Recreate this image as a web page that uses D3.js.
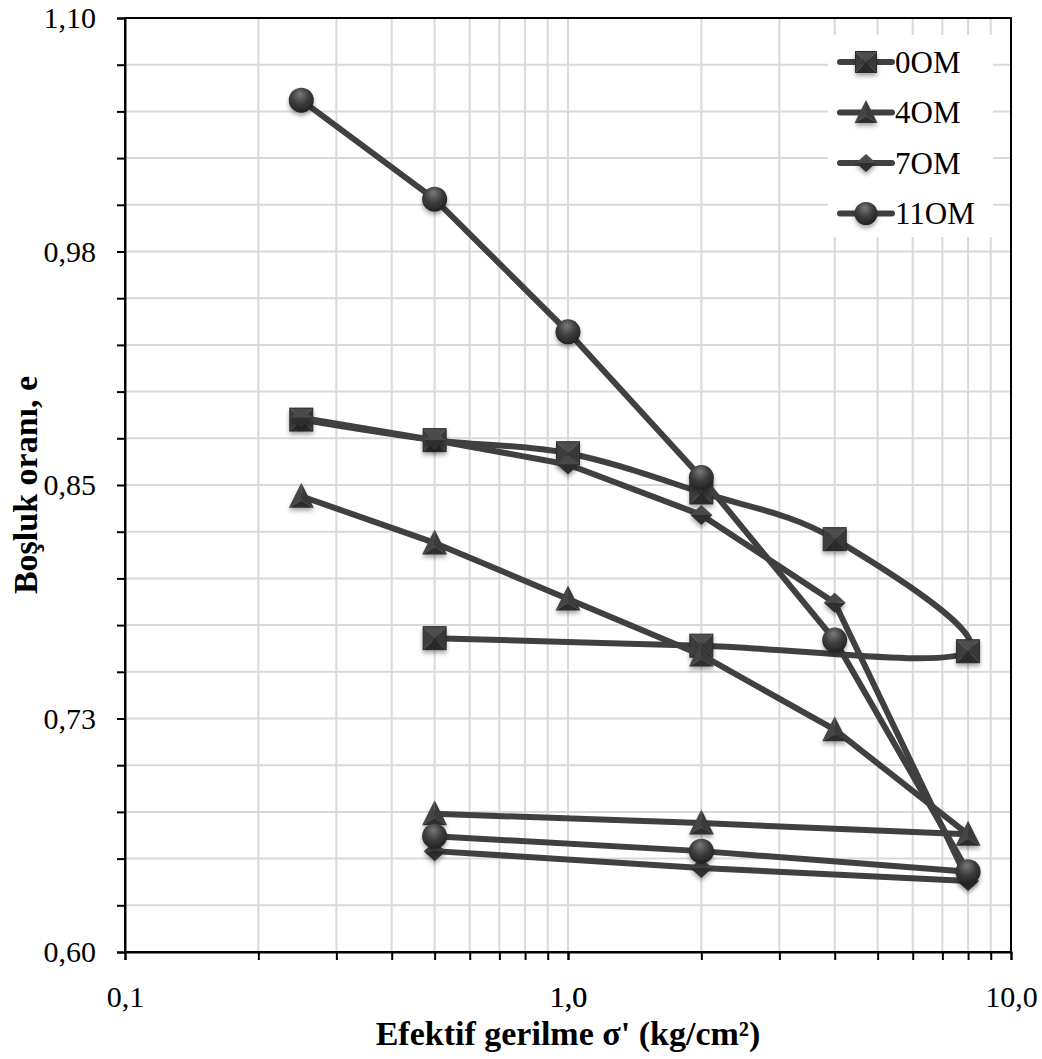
<!DOCTYPE html>
<html lang="en">
<head>
<meta charset="UTF-8">
<title>Boşluk oranı - Efektif gerilme</title>
<script src="https://d3js.org/d3.v7.min.js"></script>
<style>
    body { margin: 0; background: #fff; }
    svg { display: block; font-family: "Liberation Serif", "Times New Roman", serif; }
    .grid line { stroke: #d9d9d9; stroke-width: 2px; }
    .axis path, .axis line { stroke: #000; stroke-width: 2px; }
    .axis text { font-size: 30px; fill: #000; font-family: "Liberation Serif", serif; }
    .title { font-size: 34px; font-weight: bold; }
    .leg { font-size: 31px; }
</style>
</head>
<body>
<svg id="chart" width="1042" height="1059"></svg>
<script>
// data: loading then unloading path
let stress = [0.25, 0.5, 1, 2, 4, 8, 2, 0.5]
let e_0OM = [0.885, 0.874, 0.867, 0.846, 0.821, 0.761, 0.764, 0.768]
let e_4OM = [0.844, 0.819, 0.789, 0.759, 0.719, 0.663, 0.669, 0.674]
let e_7OM = [0.886, 0.874, 0.861, 0.834, 0.787, 0.638, 0.645, 0.654]
let e_11OM = [1.056, 1.003, 0.932, 0.854, 0.767, 0.643, 0.654, 0.662]

let seriesNames = ["0OM", "4OM", "7OM", "11OM"]
let seriesShapes = ["square", "triangle", "diamond", "circle"]

let yTicks = [0.60, 0.725, 0.85, 0.975, 1.10]
let yTickLabels = ["0,60", "0,73", "0,85", "0,98", "1,10"]
let xTicks = [0.1, 1, 10]
let xTickLabels = ["0,1", "1,0", "10,0"]

let series = [
    { name: seriesNames[0], shape: seriesShapes[0], values: e_0OM, smooth: true },
    { name: seriesNames[1], shape: seriesShapes[1], values: e_4OM, smooth: false },
    { name: seriesNames[2], shape: seriesShapes[2], values: e_7OM, smooth: false },
    { name: seriesNames[3], shape: seriesShapes[3], values: e_11OM, smooth: false }
]

let margin = { left: 125, top: 18, right: 31, bottom: 107 }
let W = 1042, H = 1059
let width = W - margin.left - margin.right
let height = H - margin.top - margin.bottom
let lineColor = "#404040"

let svg = d3.select("#chart")
let defs = svg.append("defs")

// 3D-ish look for the markers
let shadow = defs.append("filter").attr("id", "shadow")
    .attr("x", "-50%").attr("y", "-50%").attr("width", "200%").attr("height", "200%")
shadow.append("feDropShadow").attr("dx", 0).attr("dy", 3).attr("stdDeviation", 2)
    .attr("flood-color", "#000").attr("flood-opacity", 0.35)

let ball = defs.append("radialGradient").attr("id", "ball")
    .attr("cx", "45%").attr("cy", "35%").attr("r", "65%").attr("fx", "45%").attr("fy", "25%")
ball.append("stop").attr("offset", "0%").attr("stop-color", "#7a7a7a")
ball.append("stop").attr("offset", "55%").attr("stop-color", "#3c3c3c")
ball.append("stop").attr("offset", "100%").attr("stop-color", "#222")

let x = d3.scaleLog().domain([0.1, 10]).range([0, width])
let y = d3.scaleLinear().domain([0.6, 1.1]).range([height, 0])

let g = svg.append("g").attr("transform", `translate(${margin.left},${margin.top})`)

// gridlines
let xMinor = []
for (let dec of [0.1, 1]) for (let k = 2; k <= 9; k++) xMinor.push(+(dec * k).toFixed(2))
xMinor.push(1)
let yMinor = d3.range(0.625, 1.1, 0.025)

let grid = g.append("g").attr("class", "grid")
grid.selectAll(".v").data(xMinor).enter().append("line")
    .attr("x1", d => x(d)).attr("x2", d => x(d)).attr("y1", 0).attr("y2", height)
grid.selectAll(".h").data(yMinor).enter().append("line")
    .attr("x1", 0).attr("x2", width).attr("y1", d => y(d)).attr("y2", d => y(d))

// frame
g.append("rect").attr("width", width).attr("height", height)
    .attr("fill", "none").attr("stroke", "#000").attr("stroke-width", 2)

// axes: ticks at every gridline, labels only at the major ones
let xAxis = d3.axisBottom(x).tickValues(xMinor.concat(xTicks)).tickSizeOuter(0).tickSize(8)
    .tickFormat(d => { let i = xTicks.indexOf(d); return i >= 0 ? xTickLabels[i] : "" })
g.append("g").attr("class", "axis").attr("transform", `translate(0,${height})`).call(xAxis)
    .selectAll("text").attr("dy", "1.45em")

let yAxis = d3.axisLeft(y).tickValues(d3.range(0.6, 1.1001, 0.025)).tickSizeOuter(0).tickSize(8)
    .tickFormat(d => {
        let i = yTicks.findIndex(t => Math.abs(t - d) < 1e-6)
        return i >= 0 ? yTickLabels[i] : ""
    })
g.append("g").attr("class", "axis").call(yAxis)
    .selectAll("text").attr("dx", "-0.6em")

// marker drawing
function drawMarker(sel, shape, s) {
    sel.attr("filter", "url(#shadow)")
    if (shape === "circle") {
        sel.append("circle").attr("r", s / 2).attr("fill", "url(#ball)")
    } else if (shape === "square") {
        let h = s / 2
        let faces = [
            [[-h, -h], [h, -h], [0, 0], "#4d4d4d"],
            [[h, -h], [h, h], [0, 0], "#383838"],
            [[h, h], [-h, h], [0, 0], "#2c2c2c"],
            [[-h, h], [-h, -h], [0, 0], "#3e3e3e"]
        ]
        faces.forEach(f => sel.append("path").attr("d", d3.line()([f[0], f[1], f[2]]) + "Z").attr("fill", f[3]))
        sel.append("rect").attr("x", -h).attr("y", -h).attr("width", s).attr("height", s)
            .attr("fill", "none").attr("stroke", "#2a2a2a").attr("stroke-width", 1)
    } else if (shape === "triangle") {
        let h = s / 2
        let top = [0, -h - 1], bl = [-h, h - 1], br = [h, h - 1], c = [0, h / 3]
        sel.append("path").attr("d", d3.line()([top, bl, c]) + "Z").attr("fill", "#444")
        sel.append("path").attr("d", d3.line()([top, br, c]) + "Z").attr("fill", "#3a3a3a")
        sel.append("path").attr("d", d3.line()([bl, br, c]) + "Z").attr("fill", "#2e2e2e")
    } else if (shape === "diamond") {
        let w = s / 2, h = s / 2 - 1
        sel.append("path").attr("d", d3.line()([[-w, 0], [0, -h], [w, 0]]) + "Z").attr("fill", "#4a4a4a")
        sel.append("path").attr("d", d3.line()([[-w, 0], [0, h], [w, 0]]) + "Z").attr("fill", "#2e2e2e")
    }
}
let markerSize = { square: 23, triangle: 25, diamond: 22, circle: 25 }

let smoothLine = d3.line().x(d => x(d[0])).y(d => y(d[1])).curve(d3.curveCardinal.tension(0))
let straightLine = d3.line().x(d => x(d[0])).y(d => y(d[1]))

series.forEach(s => {
    let pts = stress.map((v, i) => [v, s.values[i]])
    let sg = g.append("g")
    sg.append("path").attr("d", (s.smooth ? smoothLine : straightLine)(pts))
        .attr("fill", "none").attr("stroke", lineColor).attr("stroke-width", 6)
        .attr("stroke-linejoin", "round").attr("stroke-linecap", "round")
    sg.selectAll(".m").data(pts).enter().append("g")
        .attr("transform", d => `translate(${x(d[0])},${y(d[1])})`)
        .each(function () { drawMarker(d3.select(this), s.shape, markerSize[s.shape]) })
})

// legend
let legend = svg.append("g").attr("transform", "translate(828,35)")
legend.append("rect").attr("width", 165).attr("height", 202).attr("fill", "#fff")
series.forEach((s, i) => {
    let row = legend.append("g").attr("transform", `translate(0,${27 + i * 50.5})`)
    row.append("line").attr("x1", 12).attr("x2", 64).attr("y1", 0).attr("y2", 0)
        .attr("stroke", lineColor).attr("stroke-width", 6).attr("stroke-linecap", "round")
    drawMarker(row.append("g").attr("transform", "translate(38,0)"), s.shape, markerSize[s.shape] - 2)
    row.append("text").attr("class", "leg").attr("x", 67).attr("y", 0).attr("dy", "0.35em").text(s.name)
})

// axis titles
svg.append("text").attr("class", "title").attr("text-anchor", "middle")
    .attr("x", margin.left + width / 2).attr("y", 1045)
    .text("Efektif gerilme σ' (kg/cm²)")
svg.append("text").attr("class", "title").attr("text-anchor", "middle")
    .attr("transform", `translate(37,${margin.top + height / 2}) rotate(-90)`)
    .text("Boşluk oranı, e")
</script>
</body>
</html>
